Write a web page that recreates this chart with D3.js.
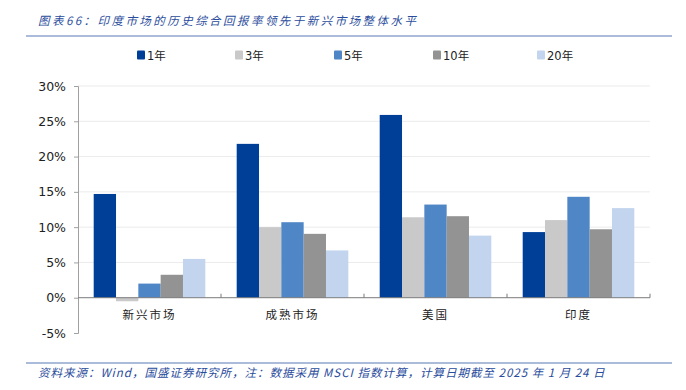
<!DOCTYPE html>
<html><head><meta charset="utf-8">
<script src="https://cdn.jsdelivr.net/npm/d3@7"></script>
<style>
html,body{margin:0;padding:0;background:#fff;}
svg{display:block;}
</style></head>
<body>
<svg id="c" width="686" height="390"></svg>
<script>
const categories = ["新兴市场", "成熟市场", "美国", "印度"];
const seriesNames = ["1年", "3年", "5年", "10年", "20年"];
const seriesColors = ["#003F98", "#C9C9C9", "#4F86C6", "#939393", "#C3D5EE"];
const v1 = [14.7, 21.8, 25.9, 9.3];
const v3 = [-0.5, 10.0, 11.4, 11.0];
const v5 = [2.0, 10.7, 13.2, 14.3];
const v10 = [3.25, 9.05, 11.55, 9.7];
const v20 = [5.5, 6.7, 8.8, 12.7];
const seriesValues = [v1, v3, v5, v10, v20];
const yTicks = [-5, 0, 5, 10, 15, 20, 25, 30];
const titleText = "图表66：印度市场的历史综合回报率领先于新兴市场整体水平";
const sourceText = "资料来源：Wind，国盛证券研究所，注：数据采用 MSCI 指数计算，计算日期截至 2025 年 1 月 24 日";

const svg = d3.select("#c");
const L = 78, R = 650, T = 86, B = 333;
const x = d3.scaleBand().domain(categories).range([L, R]).paddingInner(0).paddingOuter(0);
const y = d3.scaleLinear().domain([-5, 30]).range([B, T]);
const pad = 15.7;
const xi = d3.scaleBand().domain(seriesNames).range([pad, x.bandwidth() - pad]).padding(0);

// title
svg.append("text").attr("x", 38).attr("y", 25)
  .attr("font-family", "'Noto Sans CJK SC'").attr("font-size", 11.5)
  .attr("letter-spacing", 2.45)
  .attr("font-style", "italic").attr("fill", "#2A4C9C").text(titleText);
svg.append("line").attr("x1", 26).attr("x2", 672).attr("y1", 36).attr("y2", 36)
  .attr("stroke", "#8FA6CF").attr("stroke-width", 1.5);

// legend
const legX = [137, 235, 334, 433, 537];
seriesNames.forEach((s, i) => {
  const g = svg.append("g").attr("transform", `translate(${legX[i]},55)`);
  g.append("rect").attr("x", 0).attr("y", -4.5).attr("width", 8).attr("height", 9)
    .attr("rx", 1).attr("fill", seriesColors[i]);
  g.append("text").attr("x", 10).attr("y", 4.5)
    .attr("font-family", "'DejaVu Sans', 'Noto Sans CJK SC'").attr("font-size", 11.5)
    .attr("fill", "#222").text(s);
});

// gridlines
svg.append("g").selectAll("line").data(yTicks.filter(t => t > 0)).join("line")
  .attr("x1", L).attr("x2", R).attr("y1", d => y(d)).attr("y2", d => y(d))
  .attr("stroke", "#EBEBEB").attr("stroke-width", 1);

// y axis
const ya = svg.append("g").attr("transform", `translate(${L},0)`)
  .call(d3.axisLeft(y).tickValues(yTicks).tickFormat(d => d + "%").tickSize(4).tickPadding(8));
ya.select(".domain").attr("stroke", "#A0A0A0");
ya.selectAll(".tick line").attr("stroke", "#A0A0A0");
ya.selectAll("text").attr("font-family", "'DejaVu Sans'").attr("font-size", 12.5).attr("fill", "#222");

// bars
const groups = svg.append("g").selectAll("g").data(categories).join("g")
  .attr("transform", d => `translate(${x(d)},0)`);
groups.each(function(cat, ci) {
  d3.select(this).selectAll("rect").data(seriesNames).join("rect")
    .attr("x", s => xi(s))
    .attr("width", xi.bandwidth())
    .attr("y", (s, si) => Math.min(y(seriesValues[si][ci]), y(0)))
    .attr("height", (s, si) => Math.abs(y(seriesValues[si][ci]) - y(0)))
    .attr("fill", (s, si) => seriesColors[si]);
});

// zero line + category ticks
svg.append("line").attr("x1", L).attr("x2", R).attr("y1", y(0)).attr("y2", y(0))
  .attr("stroke", "#7A7A7A").attr("stroke-width", 1);
svg.append("g").selectAll("line").data(categories).join("line")
  .attr("x1", d => x(d) + x.bandwidth()).attr("x2", d => x(d) + x.bandwidth())
  .attr("y1", y(0) - 4).attr("y2", y(0)).attr("stroke", "#7A7A7A");

// category labels
svg.append("g").selectAll("text").data(categories).join("text")
  .attr("x", d => x(d) + x.bandwidth() / 2).attr("y", 319)
  .attr("text-anchor", "middle").attr("letter-spacing", 2)
  .attr("font-family", "'Noto Sans CJK SC'").attr("font-size", 11.5).attr("fill", "#222")
  .text(d => d);

// bottom
svg.append("line").attr("x1", 26).attr("x2", 672).attr("y1", 363).attr("y2", 363)
  .attr("stroke", "#8FA6CF").attr("stroke-width", 1.5);
svg.append("text").attr("x", 38).attr("y", 377)
  .attr("font-family", "'Noto Sans CJK SC'").attr("font-size", 11.5)
  .attr("letter-spacing", 1)
  .attr("font-style", "italic").attr("fill", "#2A4C9C").text(sourceText);
</script>
</body></html>
